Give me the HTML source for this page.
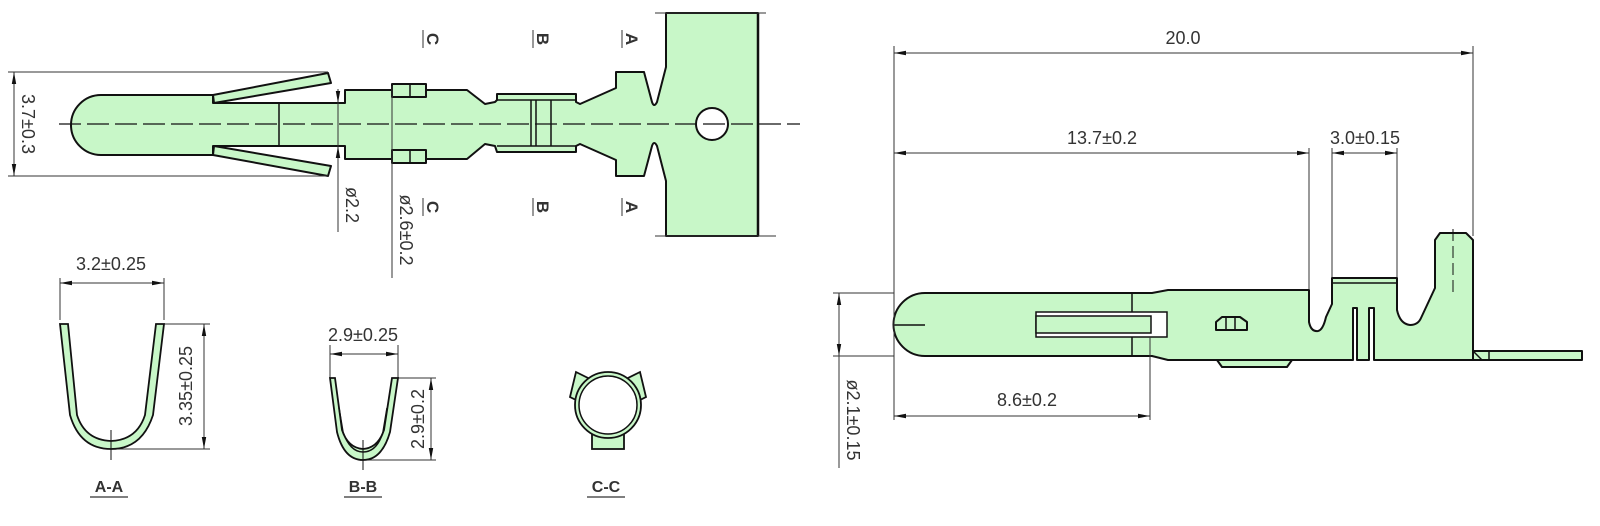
<!DOCTYPE html>
<html><head><meta charset="utf-8"><style>
html,body{margin:0;padding:0;background:#fff;}
svg{display:block;}
text{font-family:"Liberation Sans",sans-serif;fill:#333;}
</style></head><body>
<svg width="1600" height="526" viewBox="0 0 1600 526" xmlns="http://www.w3.org/2000/svg">
<defs>
<marker id="ar" viewBox="0 0 12 6" refX="12" refY="3" markerWidth="12" markerHeight="6" markerUnits="userSpaceOnUse" orient="auto-start-reverse"><path d="M0,0.8 L12,3 L0,5.2z" fill="#111"/></marker>
</defs>
<g fill="#c8f7c8" stroke="#111" stroke-width="2" stroke-linejoin="round">
<path d="M213,95 L101,95 A30,30 0 0 0 101,155 L213,155 L213,146 L345,146 L345,159 L467,159 L485,144 L495,146 L497,152 L576,152 L576,146 L580,144 L616,160 L616,176 L644,176 L652,146 Q654,140 657,146 L666,181 L666,236 L758,236 L758,13 L666,13 L666,67 L657,102 Q654,108 652,102 L644,72 L616,72 L616,88 L580,104 L576,102 L576,94 L497,94 L497,100 L495,102 L485,104 L467,90 L345,90 L345,103 L213,103 Z"/>
<polygon points="213,95 328,73 331,83 214,103"/>
<polygon points="214,146 331,166 328,176 213,155"/>
<rect x="392" y="84" width="34" height="13"/>
<rect x="392" y="150" width="34" height="13"/>
<ellipse cx="712" cy="124" rx="16" ry="16" fill="#fff"/>
</g>
<g stroke="#111" stroke-width="1.5" fill="none">
<line x1="279" y1="103" x2="279" y2="146"/>
<line x1="410" y1="84" x2="410" y2="97"/><line x1="410" y1="150" x2="410" y2="163"/>
<line x1="497" y1="100" x2="576" y2="100"/><line x1="497" y1="146" x2="576" y2="146"/>
<line x1="531" y1="100" x2="531" y2="146"/><line x1="536" y1="100" x2="536" y2="146"/><line x1="551" y1="100" x2="551" y2="146"/>
<line x1="758" y1="13" x2="758" y2="236" stroke-width="2.5"/>
</g>
<line x1="59" y1="124" x2="800" y2="124" stroke="#111" stroke-width="1.2" stroke-dasharray="22,6"/>
<g stroke="#333" stroke-width="1" fill="none">
<line x1="8" y1="72" x2="328" y2="72"/><line x1="8" y1="176" x2="328" y2="176"/>
<line x1="14" y1="72" x2="14" y2="176" marker-start="url(#ar)" marker-end="url(#ar)"/>
<line x1="338" y1="89" x2="338" y2="232"/>
<line x1="338" y1="89" x2="338" y2="103" marker-end="url(#ar)"/>
<line x1="338" y1="160" x2="338" y2="146" marker-end="url(#ar)"/>
<line x1="392" y1="86" x2="392" y2="278"/>
<line x1="655" y1="13" x2="766" y2="13"/><line x1="655" y1="236" x2="776" y2="236"/>
<line x1="423" y1="30" x2="423" y2="48"/><line x1="423" y1="198" x2="423" y2="216"/>
<line x1="533" y1="30" x2="533" y2="48"/><line x1="533" y1="198" x2="533" y2="216"/>
<line x1="622" y1="30" x2="622" y2="48"/><line x1="622" y1="198" x2="622" y2="216"/>
</g>
<g font-size="18">
<text transform="translate(22,124) rotate(90)" text-anchor="middle">3.7±0.3</text>
<text transform="translate(346,205) rotate(90)" text-anchor="middle">ø2.2</text>
<text transform="translate(400,230) rotate(90)" text-anchor="middle">ø2.6±0.2</text>
</g>
<g font-size="17" font-weight="bold">
<text transform="translate(427,39) rotate(90)" text-anchor="middle">C</text>
<text transform="translate(427,207) rotate(90)" text-anchor="middle">C</text>
<text transform="translate(537,39) rotate(90)" text-anchor="middle">B</text>
<text transform="translate(537,207) rotate(90)" text-anchor="middle">B</text>
<text transform="translate(626,39) rotate(90)" text-anchor="middle">A</text>
<text transform="translate(626,207) rotate(90)" text-anchor="middle">A</text>
</g>

<g stroke="#333" stroke-width="1" fill="none">
<line x1="60" y1="278" x2="60" y2="320"/><line x1="164" y1="278" x2="164" y2="320"/>
<line x1="60" y1="283" x2="164" y2="283" marker-start="url(#ar)" marker-end="url(#ar)"/>
<line x1="164" y1="324" x2="210" y2="324"/><line x1="111" y1="449" x2="210" y2="449"/>
<line x1="204" y1="324" x2="204" y2="449" marker-start="url(#ar)" marker-end="url(#ar)"/>
</g>
<path d="M60,324 L68,324 L77,415 Q85,440 111,441 Q137,440 145,415 L156,324 L164,324 L153,415 Q142,449 111,449 Q80,449 70,415 Z" fill="#c8f7c8" stroke="#111" stroke-width="1.8"/>
<line x1="111" y1="430" x2="111" y2="460" stroke="#111" stroke-width="1"/>
<text x="111" y="270" font-size="18" text-anchor="middle">3.2±0.25</text>
<text transform="translate(192,386) rotate(-90)" font-size="18" text-anchor="middle">3.35±0.25</text>
<text x="109" y="492" font-size="16" font-weight="bold" text-anchor="middle">A-A</text>
<line x1="90" y1="497" x2="128" y2="497" stroke="#333" stroke-width="1.2"/>

<g stroke="#333" stroke-width="1" fill="none">
<line x1="330" y1="345" x2="330" y2="378"/><line x1="398" y1="345" x2="398" y2="378"/>
<line x1="330" y1="354" x2="398" y2="354" marker-start="url(#ar)" marker-end="url(#ar)"/>
<line x1="398" y1="378" x2="436" y2="378"/><line x1="363" y1="460" x2="436" y2="460"/>
<line x1="431" y1="378" x2="431" y2="460" marker-start="url(#ar)" marker-end="url(#ar)"/>
</g>
<path d="M330,378 L335,378 L342,430 Q348,448 363,449 Q378,448 384,430 L392,378 L398,378 L390,432 Q382,460 363,460 Q344,460 337,432 Z" fill="#c8f7c8" stroke="#111" stroke-width="1.8"/>
<path d="M339,408 L343,432 Q350,452 363,452 Q377,452 383,432 L387,408" fill="none" stroke="#111" stroke-width="1.5"/>
<line x1="363" y1="440" x2="363" y2="470" stroke="#111" stroke-width="1"/>
<text x="363" y="341" font-size="18" text-anchor="middle">2.9±0.25</text>
<text transform="translate(424,419) rotate(-90)" font-size="18" text-anchor="middle">2.9±0.2</text>
<text x="363" y="492" font-size="16" font-weight="bold" text-anchor="middle">B-B</text>
<line x1="344" y1="497" x2="382" y2="497" stroke="#333" stroke-width="1.2"/>

<g fill="#c8f7c8" stroke="#111" stroke-width="1.8">
<polygon points="576,372 590,379 584,404 570,397"/>
<polygon points="640,372 626,379 632,404 646,397"/>
<rect x="592" y="431" width="32" height="18"/>
<circle cx="608" cy="405" r="33"/>
<circle cx="608" cy="405" r="29" fill="#fff" stroke-width="1.5"/>
</g>
<text x="606" y="492" font-size="16" font-weight="bold" text-anchor="middle">C-C</text>
<line x1="587" y1="497" x2="625" y2="497" stroke="#333" stroke-width="1.2"/>

<g fill="#c8f7c8" stroke="#111" stroke-width="2" stroke-linejoin="round">
<path d="M925,293 L1152,293 L1168,290 L1309,290 L1309,322 Q1311,332 1318,331 Q1323,330 1326,317 L1332,304 L1332,278 L1397,278 L1397,310 Q1400,324 1410,325 Q1418,325 1421,318 L1435,288 L1435,240 L1440,233 L1466,233 L1473,240 L1473,360 L1374,360 L1374,308 L1369,308 L1369,360 L1357,360 L1357,308 L1353,308 L1353,360 L1168,360 L1152,356 L925,356 A31,31 0 0 1 925,293 Z"/>
<polygon points="1217,360 1292,360 1287,367 1222,367"/>
<rect x="1473" y="351" width="109" height="9"/>
<path d="M1216,330 L1216,322 L1222,317 L1240,317 L1247,322 L1247,330 Z"/>
</g>
<g stroke="#111" stroke-width="1.5" fill="none">
<line x1="1132" y1="293" x2="1132" y2="356"/>
<rect x="1036" y="312" width="131" height="25" fill="#fff"/>
<rect x="1036" y="316" width="115" height="17" fill="#c8f7c8"/>
<line x1="1226" y1="317" x2="1226" y2="330"/><line x1="1235" y1="317" x2="1235" y2="330"/>
<line x1="1332" y1="283" x2="1397" y2="283"/>
<line x1="894" y1="325" x2="925" y2="325"/>
<line x1="1489" y1="351" x2="1489" y2="360"/>
<line x1="1473" y1="351" x2="1482" y2="360"/>
<line x1="1453" y1="229" x2="1453" y2="297" stroke-width="1" stroke-dasharray="12,5"/>
</g>
<g stroke="#333" stroke-width="1" fill="none">
<line x1="894" y1="46" x2="894" y2="420"/>
<line x1="1473" y1="46" x2="1473" y2="236"/>
<line x1="894" y1="53" x2="1473" y2="53" marker-start="url(#ar)" marker-end="url(#ar)"/>
<line x1="894" y1="153" x2="1309" y2="153" marker-start="url(#ar)" marker-end="url(#ar)"/>
<line x1="1309" y1="148" x2="1309" y2="289"/>
<line x1="1332" y1="148" x2="1332" y2="277"/>
<line x1="1397" y1="148" x2="1397" y2="277"/>
<line x1="1332" y1="153" x2="1397" y2="153" marker-start="url(#ar)" marker-end="url(#ar)"/>
<line x1="1150" y1="337" x2="1150" y2="420"/>
<line x1="894" y1="416" x2="1150" y2="416" marker-start="url(#ar)" marker-end="url(#ar)"/>
<line x1="833" y1="293" x2="894" y2="293"/><line x1="833" y1="356" x2="894" y2="356"/>
<line x1="839" y1="293" x2="839" y2="356" marker-start="url(#ar)" marker-end="url(#ar)"/>
<line x1="839" y1="356" x2="839" y2="468"/>
</g>
<g font-size="18">
<text x="1183" y="44" text-anchor="middle">20.0</text>
<text x="1102" y="144" text-anchor="middle">13.7±0.2</text>
<text x="1365" y="144" text-anchor="middle">3.0±0.15</text>
<text x="1027" y="406" text-anchor="middle">8.6±0.2</text>
<text transform="translate(847,420) rotate(90)" text-anchor="middle">ø2.1±0.15</text>
</g>
</svg>
</body></html>
